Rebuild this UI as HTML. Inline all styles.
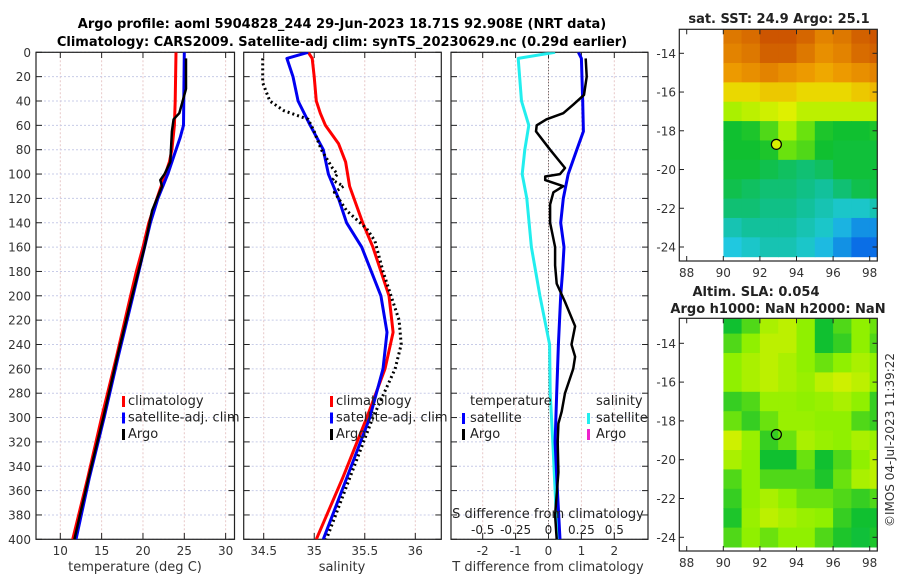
<!DOCTYPE html>
<html><head><meta charset="utf-8"><style>
body{margin:0;background:#fff}
svg{display:block;font-family:"DejaVu Sans","Liberation Sans",sans-serif}
</style></head><body>
<svg id="c" width="900" height="580" viewBox="0 0 900 580">
<defs>
<clipPath id="cp1"><rect x="723.3" y="29.3" width="154" height="231.7"/></clipPath>
<clipPath id="cp2"><rect x="723.3" y="318.3" width="154" height="232.7"/></clipPath>
<clipPath id="cpa"><rect x="36" y="52.3" width="198.5" height="487"/></clipPath>
<clipPath id="cpb"><rect x="243.7" y="52.3" width="197.6" height="487"/></clipPath>
<clipPath id="cpc"><rect x="451" y="52.3" width="197" height="487"/></clipPath>
</defs>
<text x="342" y="28" text-anchor="middle" font-weight="bold" font-size="13">Argo profile: aoml 5904828_244 29-Jun-2023 18.71S 92.908E (NRT data)</text>
<text x="342" y="46" text-anchor="middle" font-weight="bold" font-size="13">Climatology: CARS2009. Satellite-adj clim: synTS_20230629.nc (0.29d earlier)</text>
<g id="g"></g>
</svg>
<script>
// ---------- data ----------
const depthTicks=[0,20,40,60,80,100,120,140,160,180,200,220,240,260,280,300,320,340,360,380,400];
const tTicks=[10,15,20,25,30];
const sTicks=[34.5,35,35.5,36];
const tdTicks=[-2,-1,0,1,2];
const sdTicks=[-0.5,-0.25,0,0.25,0.5];
const sdTickLabels=['-0.5','-0.25','0','0.25','0.5'];

const climTD=[0,40,60,80,90,100,120,140,160,180,200,250,300,350,400];
const climT=[24.0,23.9,23.8,23.5,23.2,22.7,21.7,20.7,20.0,19.2,18.5,16.8,15.0,13.3,11.5];
const satTD=[0,60,70,80,100,120,140,160,200,250,300,350,400];
const satT=[25.0,24.9,24.5,24.0,23.0,21.8,20.9,20.2,18.8,17.0,15.3,13.5,11.9];
const argoTD=[5,30,40,50,55,65,90,100,105,110,115,130,160,200,250,300,350,400];
const argoT=[25.2,25.2,24.8,24.4,23.7,23.5,23.3,22.6,22.1,22.3,22.0,21.1,20.2,18.7,16.9,15.2,13.4,11.7];

const climSD=[0,5,20,40,50,60,75,90,110,140,160,200,230,260,300,350,400];
const climS=[34.94,34.98,35.0,35.02,35.06,35.11,35.24,35.31,35.35,35.48,35.58,35.74,35.78,35.7,35.52,35.28,35.02];
const satSD=[0,5,20,40,60,80,100,120,140,160,200,230,260,300,350,400];
const satS=[34.94,34.73,34.79,34.84,34.96,35.09,35.14,35.24,35.32,35.47,35.66,35.72,35.68,35.55,35.32,35.09];
const argoSD=[5,25,40,48,55,65,80,95,100,105,110,115,130,145,155,180,200,220,240,260,300,350,400];
const argoS=[34.49,34.49,34.56,34.7,34.94,35.0,35.07,35.18,35.23,35.18,35.29,35.2,35.32,35.52,35.6,35.68,35.76,35.84,35.86,35.8,35.58,35.35,35.12];

const dTsD=[0,5,40,65,80,100,120,140,160,180,200,240,280,320,360,400];
const dTs=[0.91,1.0,1.04,1.06,0.86,0.6,0.45,0.37,0.47,0.43,0.37,0.3,0.25,0.2,0.27,0.35];
const dSsD=[0,5,40,60,80,100,120,160,200,240,280,320,360,400];
const dSs=[0.05,-0.23,-0.205,-0.15,-0.18,-0.2,-0.165,-0.13,-0.065,0.008,0.013,0.033,0.05,0.068];
const dTaD=[5,20,35,43,50,55,60,65,80,95,100,102,105,110,115,125,140,160,175,190,205,225,240,250,260,280,295,305,320,345,380,400];
const dTa=[1.13,1.16,1.08,0.75,0.45,-0.06,-0.36,-0.38,0.05,0.5,0.35,-0.1,-0.1,0.45,0.15,0.05,0.05,0.2,0.2,0.25,0.5,0.81,0.7,0.81,0.75,0.5,0.4,0.3,0.28,0.3,0.2,0.25];

const lonTicks=[88,90,92,94,96,98];
const latTicks=[-14,-16,-18,-20,-22,-24];
const argoLon=[92.9], argoLat=[-18.7];
const sstGrid=[
[.82,.84,.88,.9,.85,.8,.82,.86,.88],
[.8,.82,.86,.86,.82,.78,.8,.84,.86],
[.76,.78,.8,.78,.76,.74,.76,.78,.8],
[.68,.68,.7,.7,.68,.68,.68,.7,.72],
[.58,.6,.62,.64,.6,.6,.6,.6,.6],
[.45,.46,.5,.58,.52,.46,.45,.45,.46],
[.45,.45,.46,.52,.5,.45,.44,.44,.44],
[.44,.44,.42,.4,.38,.4,.44,.44,.44],
[.42,.4,.38,.38,.36,.34,.38,.42,.43],
[.38,.38,.36,.36,.34,.32,.3,.3,.32],
[.32,.34,.34,.34,.32,.3,.25,.2,.2],
[.28,.3,.32,.32,.3,.26,.2,.15,.15]];
const slaGrid=[
[.45,.5,.58,.6,.55,.45,.5,.55,.52],
[.5,.55,.6,.6,.55,.45,.48,.55,.5],
[.55,.58,.6,.58,.55,.52,.55,.58,.55],
[.55,.58,.6,.58,.56,.6,.62,.6,.55],
[.48,.5,.56,.56,.55,.56,.58,.55,.48],
[.52,.48,.52,.56,.56,.55,.55,.5,.48],
[.62,.56,.48,.52,.58,.56,.55,.58,.56],
[.58,.55,.45,.45,.52,.45,.5,.55,.6],
[.5,.55,.5,.5,.5,.46,.52,.58,.6],
[.48,.55,.58,.55,.52,.52,.5,.48,.5],
[.46,.56,.6,.58,.56,.55,.48,.45,.45],
[.5,.55,.52,.55,.55,.5,.46,.44,.46]];

// ---------- helpers ----------
const NS='http://www.w3.org/2000/svg';
const G=document.getElementById('g');
function mk(tag,attrs,parent){const e=document.createElementNS(NS,tag);for(const k in attrs)e.setAttribute(k,attrs[k]);(parent||G).appendChild(e);return e;}
const Y=d=>52.3+d*1.2175;
const xT=v=>60.3+(v-10)*8.267;
const xS=v=>263.7+(v-34.5)*101.07;
const xD=v=>548.5+v*32.9;
const xDS=v=>548.5+v*4*32.9;
const mx=lon=>723.3+(lon-90)*18.3;
const my=lat=>53.3+(-14-lat)*19.37;
const my2=lat=>343.3+(-14-lat)*19.4;

function panel(x0,x1,name,xs,xticks,labels){
  const g=mk('g',{});  
  xticks.forEach(t=>{mk('line',{x1:xs(t),x2:xs(t),y1:52.3,y2:539.3,stroke:'#e8c8c8','stroke-dasharray':'2,2','stroke-width':1},g);});
  depthTicks.forEach(d=>{mk('line',{x1:x0,x2:x1,y1:Y(d),y2:Y(d),stroke:'#c8cce8','stroke-dasharray':'2,2','stroke-width':1},g);
    mk('line',{x1:x0,x2:x0+6,y1:Y(d),y2:Y(d),stroke:'#222'},g);mk('line',{x1:x1-6,x2:x1,y1:Y(d),y2:Y(d),stroke:'#222'},g);});
  xticks.forEach((t,i)=>{mk('line',{x1:xs(t),x2:xs(t),y1:539.3,y2:533,stroke:'#222'},g);mk('line',{x1:xs(t),x2:xs(t),y1:52.3,y2:58,stroke:'#222'},g);
    const tx=mk('text',{x:xs(t),y:555,'text-anchor':'middle','font-size':12,fill:'#333'},g);tx.textContent=labels?labels[i]:String(t);
    
    });
  mk('rect',{x:x0,y:52.3,width:x1-x0,height:487,fill:'none',stroke:'#222','stroke-width':1.2},g);
  return g;
}
function line(xs,ds,vs,color,w,name,clip,dash){
  const p=ds.map((d,i)=>(i?'L':'M')+xs(vs[i]).toFixed(1)+','+Y(d).toFixed(1)).join('');
  const e=mk('path',{d:p,fill:'none',stroke:color,'stroke-width':w,'stroke-linejoin':'round','clip-path':'url(#'+clip+')'});
  if(dash)e.setAttribute('stroke-dasharray',dash);
  
  
}
function txt(x,y,s,size,name,anchor,extra){const e=mk('text',Object.assign({x:x,y:y,'font-size':size,fill:'#222','text-anchor':anchor||'start'},extra||{}));e.textContent=s;
  
  return e;}
function legend(mx0,items){items.forEach((it,i)=>{const y=405+i*16.5;mk('rect',{x:mx0,y:y-9,width:3,height:11,fill:it[1]});txt(mx0+6,y,it[0],13,'legend-entry');});}

// panel 1
panel(36,234.5,'temperature-panel',xT,tTicks);
depthTicks.forEach(d=>txt(31,Y(d)+4.5,String(d),12,'y-tick-label','end',{fill:'#333'}));
line(xT,climTD,climT,'#f00',3,'temp-climatology-line','cpa');
line(xT,satTD,satT,'#0000f0',3,'temp-satellite-line','cpa');
line(xT,argoTD,argoT,'#000',2.5,'temp-argo-line','cpa');
txt(135,571,'temperature (deg C)',13,'x-axis-title','middle',{fill:'#333'});
legend(122,[['climatology','#f00'],['satellite-adj. clim','#00f'],['Argo','#000']]);

// panel 2
panel(243.7,441.3,'salinity-panel',xS,sTicks);
line(xS,climSD,climS,'#f00',3,'sal-climatology-line','cpb');
line(xS,satSD,satS,'#0000f0',3,'sal-satellite-line','cpb');
line(xS,argoSD,argoS,'#000',3,'sal-argo-line','cpb','2,3');
txt(342,571,'salinity',13,'x-axis-title','middle',{fill:'#333'});
legend(330,[['climatology','#f00'],['satellite-adj. clim','#00f'],['Argo','#000']]);

// panel 3
panel(451,648,'difference-panel',xD,tdTicks);
mk('line',{x1:xD(0),x2:xD(0),y1:52.3,y2:539.3,stroke:'#444','stroke-dasharray':'1,2'});
line(xDS,dSsD,dSs,'#22eeee',3,'sal-diff-satellite-line','cpc');
line(xD,dTsD,dTs,'#0000f0',3,'temp-diff-satellite-line','cpc');
line(xD,dTaD,dTa,'#000',2.5,'temp-diff-argo-line','cpc');
txt(470,405,'temperature',13,'legend-title');
txt(596,405,'salinity',13,'legend-title');
mk('rect',{x:462,y:413,width:3,height:11,fill:'#00f'});txt(470,422,'satellite',13,'legend-entry');
mk('rect',{x:462,y:429,width:3,height:11,fill:'#000'});txt(470,438,'Argo',13,'legend-entry');
mk('rect',{x:587,y:413,width:3,height:11,fill:'#22eeee'});txt(596,422,'satellite',13,'legend-entry');
mk('rect',{x:587,y:429,width:3,height:11,fill:'#ee22cc'});txt(596,438,'Argo',13,'legend-entry');
txt(548,518,'S difference from climatology',13,'s-axis-title','middle');
sdTicks.forEach((t,i)=>txt(xDS(t),534,sdTickLabels[i],12,'s-tick-label','middle'));
txt(548,571,'T difference from climatology',13,'x-axis-title','middle',{fill:'#333'});

// maps
const stops=[[0.15,[10,110,230]],[0.28,[32,200,224]],[0.35,[16,192,144]],[0.45,[16,192,48]],[0.55,[144,240,0]],[0.65,[232,240,0]],[0.75,[240,160,0]],[0.88,[205,85,0]]];
function cmap(v){if(v<=stops[0][0])return 'rgb('+stops[0][1]+')';for(let i=1;i<stops.length;i++){if(v<=stops[i][0]){const a=stops[i-1],b=stops[i],f=(v-a[0])/(b[0]-a[0]);return 'rgb('+a[1].map((c,k)=>Math.round(c+(b[1][k]-c)*f)).join(',')+')';}}return 'rgb('+stops[stops.length-1][1]+')';}
function map(grid,yf,top,bot,clip,name,title){
  const g=mk('g',{});  
  const cg=mk('g',{'clip-path':'url(#'+clip+')'},g);
  grid.forEach((row,r)=>row.forEach((v,c)=>{const x=mx(90+c),y=yf(-12.5-r),w=mx(91+c)-x,h=yf(-13.5-r)-y;
    const e=mk('rect',{x:x,y:y,width:w+0.5,height:h+0.5,fill:cmap(v)},cg);
    
    }));
  mk('rect',{x:679.3,y:top,width:198,height:bot-top,fill:'none',stroke:'#222','stroke-width':1.2},g);
  latTicks.forEach(l=>{mk('line',{x1:679.3,x2:684,y1:yf(l),y2:yf(l),stroke:'#222'},g);mk('line',{x1:872.5,x2:877.3,y1:yf(l),y2:yf(l),stroke:'#222'},g);
    txt(676,yf(l)+4.5,String(l),12,'map-lat-label','end',{fill:'#333'});});
  lonTicks.forEach(l=>{mk('line',{x1:mx(l),x2:mx(l),y1:bot,y2:bot-5,stroke:'#222'},g);mk('line',{x1:mx(l),x2:mx(l),y1:top,y2:top+5,stroke:'#222'},g);
    txt(mx(l),bot+16,String(l),12,'map-lon-label','middle',{fill:'#333'});});
  const ci=mk('circle',{cx:mx(argoLon[0]),cy:yf(argoLat[0]),r:5,fill:title?'#d8f000':'none',stroke:'#000','stroke-width':1.2},g);
  
  
}
map(sstGrid,my,29.3,261,'cp1','sst-map',true);
map(slaGrid,my2,318.3,551,'cp2','sla-map',false);
txt(779,23,'sat. SST: 24.9 Argo: 25.1',13,'sst-map-title','middle',{'font-weight':'bold'});
txt(756,296,'Altim. SLA: 0.054',13,'sla-map-title-1','middle',{'font-weight':'bold'});
txt(778,313,'Argo h1000: NaN h2000: NaN',13,'sla-map-title-2','middle',{'font-weight':'bold'});
txt(0,0,'©IMOS 04-Jul-2023 11:39:22',12,'timestamp','middle',{transform:'translate(894,440) rotate(-90)',fill:'#333'});
</script>
</body></html>
